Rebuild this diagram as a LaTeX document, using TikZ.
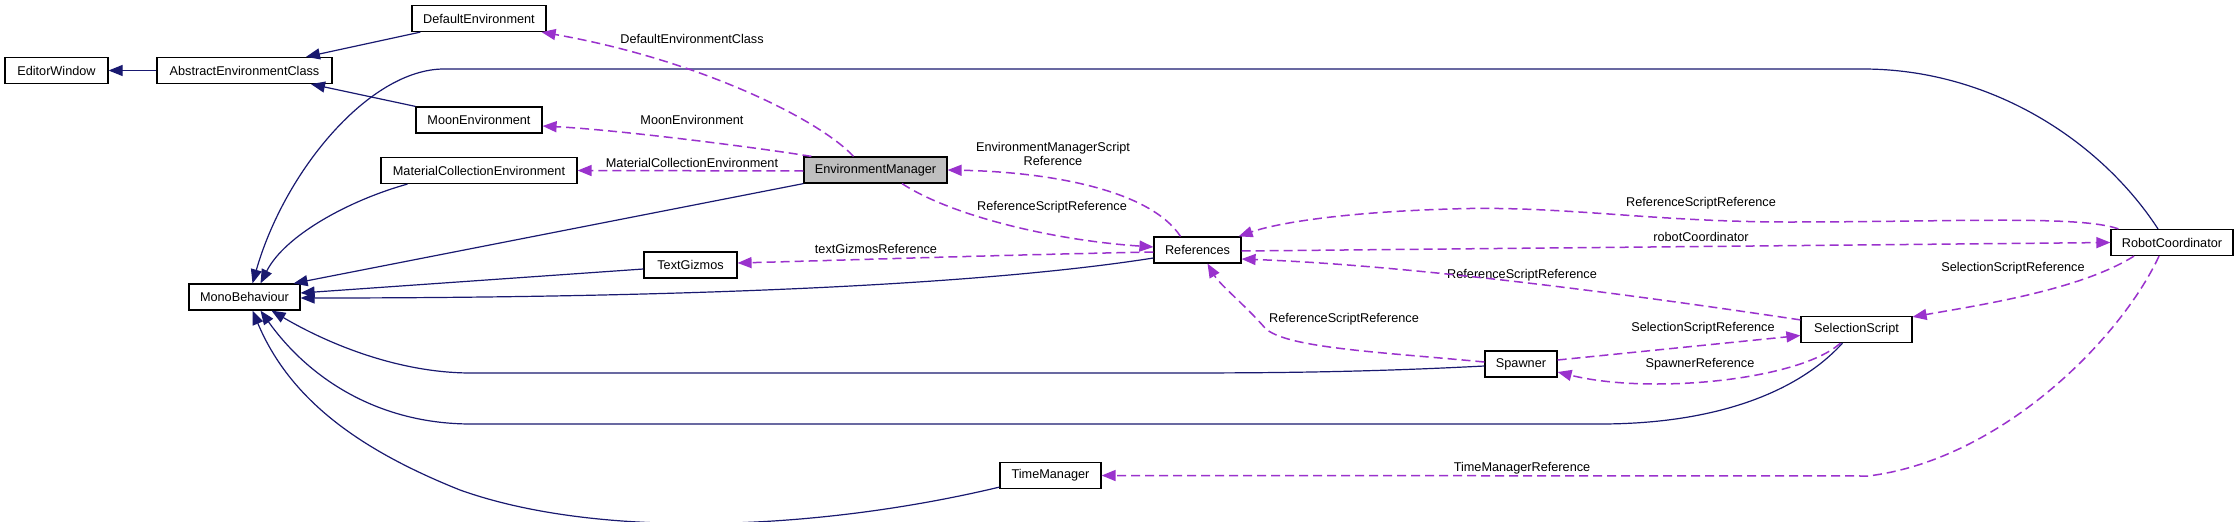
\documentclass[tikz,border=0pt]{standalone}
\usepackage{fontspec}
\setmainfont{Liberation Sans}
\usetikzlibrary{arrows.meta,calc}
\definecolor{navy}{RGB}{25,25,112}
\definecolor{orchid}{RGB}{154,50,205}
\definecolor{selgray}{RGB}{191,191,191}
\begin{document}
\begin{tikzpicture}[x=1pt,y=-1pt,
  cls/.style={draw=black, line width=1.2pt, fill=white, minimum height=26pt, inner sep=0pt, font=\fontsize{12.7}{14}\selectfont},
  inh/.style={draw=navy, line width=1.2pt, -{Triangle[length=14pt,width=11pt]}},
  use/.style={draw=orchid, line width=1.5pt, dash pattern=on 9pt off 5pt, -{Triangle[length=14pt,width=11pt]}},
  lbl/.style={inner sep=0pt, font=\fontsize{12.7}{14}\selectfont, align=center}]
\useasboundingbox[fill=white] (0,0) rectangle (2239,522);
% classes
\node[cls, minimum width=103pt] (EW) at (56.5,70.5) {EditorWindow};
\node[cls, minimum width=175pt] (AEC) at (244.5,70.5) {AbstractEnvironmentClass};
\node[cls, minimum width=134pt] (DE) at (479,18.5) {DefaultEnvironment};
\node[cls, minimum width=126pt] (MOON) at (479,120) {MoonEnvironment};
\node[cls, minimum width=196pt] (MCE) at (479,170.5) {MaterialCollectionEnvironment};
\node[cls, minimum width=93pt] (TG) at (690.5,265) {TextGizmos};
\node[cls, minimum width=111pt] (MB) at (244.5,297) {MonoBehaviour};
\node[cls, minimum width=143pt, fill=selgray] (EM) at (875.5,170) {EnvironmentManager};
\node[cls, minimum width=87pt] (REF) at (1197.5,250) {References};
\node[cls, minimum width=122pt] (RC) at (2172,242.5) {RobotCoordinator};
\node[cls, minimum width=111pt] (SEL) at (1856.5,329.5) {SelectionScript};
\node[cls, minimum width=72pt] (SP) at (1521,364) {Spawner};
\node[cls, minimum width=101pt] (TM) at (1050.5,475.5) {TimeManager};
% labels
\node[lbl] (lDE) at (692,39) {DefaultEnvironmentClass};
\node[lbl] (lMoon) at (692,120) {MoonEnvironment};
\node[lbl] (lMCE) at (692,163) {MaterialCollectionEnvironment};
\node[lbl] (lEMR) at (1053,154) {EnvironmentManagerScript\\Reference};
\node[lbl] (lRSR1) at (1052,207) {ReferenceScriptReference};
\node[lbl] (lTG) at (876,249) {textGizmosReference};
\node[lbl] (lRSR2) at (1701,203) {ReferenceScriptReference};
\node[lbl] (lRC) at (1701,237) {robotCoordinator};
\node[lbl] (lRSR3) at (1522,275) {ReferenceScriptReference};
\node[lbl] (lSSR1) at (2013,268) {SelectionScriptReference};
\node[lbl] (lSSR2) at (1703,328) {SelectionScriptReference};
\node[lbl] (lSpR) at (1700,364) {SpawnerReference};
\node[lbl] (lRSR4) at (1344,319) {ReferenceScriptReference};
\node[lbl] (lTMR) at (1522,468) {TimeManagerReference};
% inheritance
\draw[inh] (AEC.west) -- (EW.east);
\draw[inh] ($(DE.south west)+(9,0)$) -- ($(AEC.north)+(61.5,0)$);
\draw[inh] (MOON.north west) -- ($(AEC.south)+(66.5,0)$);
\draw[inh] ($(RC.north)+(-14,0)$) .. controls (2100,140) and (1990,69) .. (1863,69) -- (444,69) .. controls (370,69) and (285,170) .. ($(MB.north)+(8,0)$);
\draw[inh] ($(MCE.south west)+(27,0)$) .. controls (350,200) and (285,235) .. ($(MB.north)+(16,0)$);
\draw[inh] (EM.south west) -- ($(MB.north east)+(-7,0)$);
\draw[inh] ($(TG.west)+(0,4)$) -- ($(MB.east)+(0,-4)$);
\draw[inh] ($(REF.west)+(0,8)$) .. controls (950,290) and (600,298) .. ($(MB.east)+(0,1)$);
\draw[inh] ($(SP.west)+(0,2)$) .. controls (1350,373) and (1250,373) .. (1150,373) -- (471,373) .. controls (400,373) and (330,345) .. ($(MB.south)+(27,0)$);
\draw[inh] ($(SEL.south)+(-14,0)$) .. controls (1800,390) and (1720,424) .. (1600,424) -- (471,424) .. controls (380,424) and (310,380) .. ($(MB.south)+(16,0)$);
\draw[inh] ($(TM.south west)+(0,-2)$) .. controls (820,530) and (600,540) .. (460,490) .. controls (360,450) and (290,400) .. ($(MB.south)+(8,0)$);
% usage
\draw[use] ($(EM.north)+(-22,0)$) .. controls (820,120) and (700,60) .. ($(DE.south east)+(-5,0)$);
\draw[use] ($(EM.north west)+(8,0)$) .. controls (760,148) and (620,130) .. ($(MOON.east)+(0,6)$);
\draw[use] ($(EM.west)+(0,1)$) -- (MCE.east);
\draw[use] ($(REF.north)+(-17,0)$) .. controls (1150,190) and (1050,172) .. (EM.east);
\draw[use] ($(EM.south)+(26.5,0)$) .. controls (950,215) and (1050,240) .. ($(REF.west)+(0,-3)$);
\draw[use] ($(REF.west)+(0,2)$) .. controls (1000,255) and (850,260) .. ($(TG.east)+(0,-2)$);
\draw[use] ($(RC.north west)+(8,0)$) .. controls (2080,215) and (1950,222) .. (1790,222) .. controls (1650,222) and (1560,205) .. (1450,209) .. controls (1350,212) and (1280,222) .. ($(REF.north east)+(-3,0)$);
\draw[use] ($(REF.east)+(0,1)$) -- (RC.west);
\draw[use] ($(SEL.north west)+(0,4)$) .. controls (1600,290) and (1400,265) .. ($(REF.east)+(0,9)$);
\draw[use] ($(SP.west)+(0,-2)$) .. controls (1380,352) and (1285,348) .. (1265,328) .. controls (1245,305) and (1220,285) .. ($(REF.south)+(10,0)$);
\draw[use] ($(RC.south)+(-38,0)$) .. controls (2080,290) and (1980,305) .. ($(SEL.north east)+(0,1)$);
\draw[use] ($(SP.east)+(0,-4)$) -- ($(SEL.west)+(0,6)$);
\draw[use] ($(SEL.south)+(-16,0)$) .. controls (1800,380) and (1650,395) .. ($(SP.east)+(0,8)$);
\draw[use] ($(RC.south)+(-13,0)$) .. controls (2120,340) and (2000,460) .. (1868,476) -- (TM.east);
\end{tikzpicture}
\end{document}
